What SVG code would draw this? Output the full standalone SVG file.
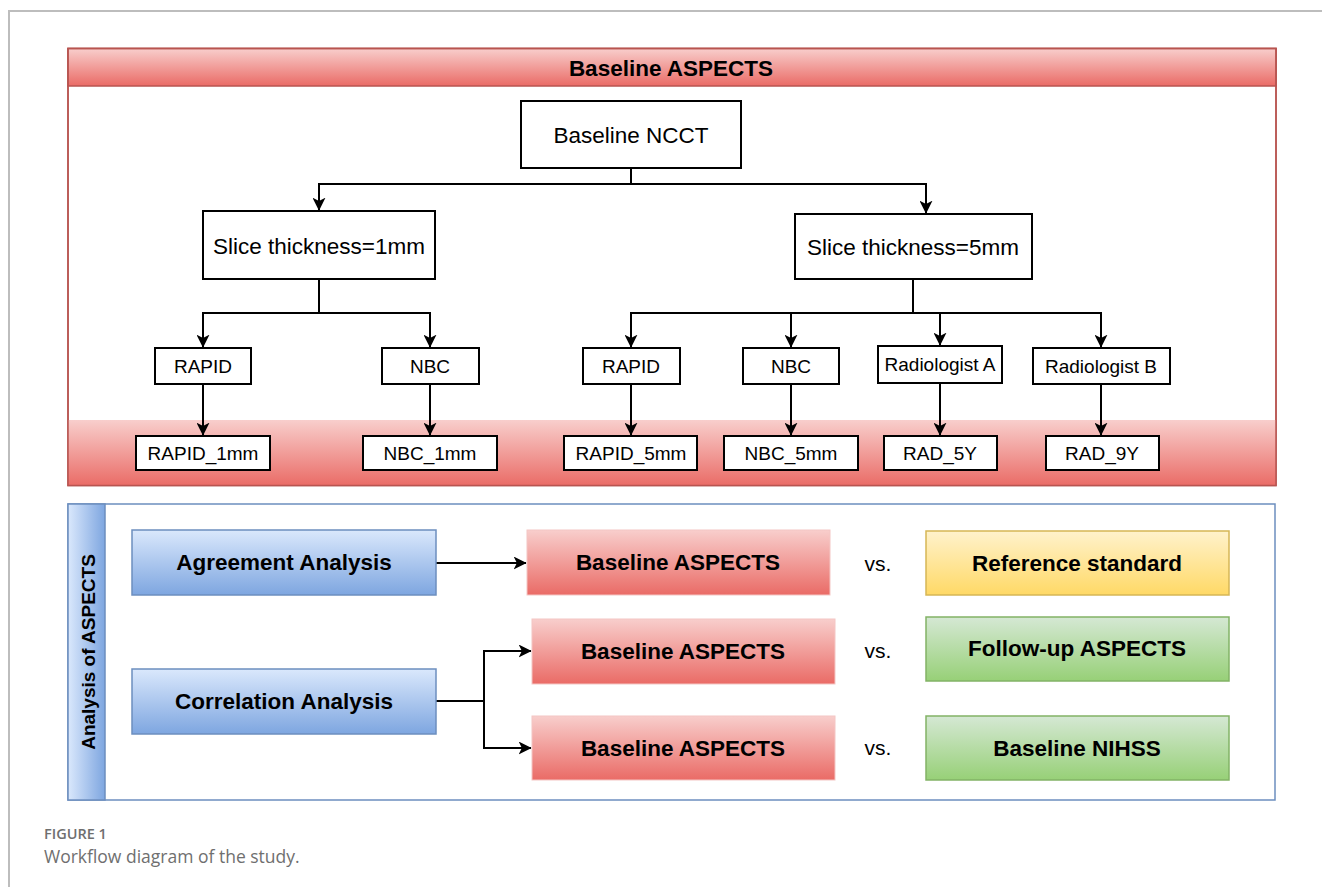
<svg xmlns="http://www.w3.org/2000/svg" width="1322" height="887" viewBox="0 0 1322 887">
<defs>
<linearGradient id="gRed" x1="0" y1="0" x2="0" y2="1"><stop offset="0" stop-color="#f8cecc"/><stop offset="1" stop-color="#ea6b66"/></linearGradient>
<linearGradient id="gBlue" x1="0" y1="0" x2="0" y2="1"><stop offset="0" stop-color="#dae8fc"/><stop offset="1" stop-color="#7ea6e0"/></linearGradient>
<linearGradient id="gBlueH" x1="0" y1="0" x2="1" y2="0"><stop offset="0" stop-color="#dae8fc"/><stop offset="1" stop-color="#7ea6e0"/></linearGradient>
<linearGradient id="gYel" x1="0" y1="0" x2="0" y2="1"><stop offset="0" stop-color="#fff2cc"/><stop offset="1" stop-color="#ffd966"/></linearGradient>
<linearGradient id="gGrn" x1="0" y1="0" x2="0" y2="1"><stop offset="0" stop-color="#d5e8d4"/><stop offset="1" stop-color="#97d077"/></linearGradient>
<marker id="arr" viewBox="0 0 10 10" refX="9.5" refY="5" markerWidth="13" markerHeight="13" markerUnits="userSpaceOnUse" orient="auto">
<path d="M0,0 L10,5 L0,10 L2.5,5 Z" fill="#000"/>
</marker>
</defs>
<style>
.box{fill:#fff;stroke:#000;stroke-width:2}
.t{font-family:"Liberation Sans",Arial,sans-serif;fill:#000;text-anchor:middle;dominant-baseline:central}
.big{font-size:22.5px}
.sm{font-size:19px}
.b{font-weight:bold;font-size:22.5px}
.ln{fill:none;stroke:#000;stroke-width:2}
.red{fill:url(#gRed);stroke:#f4c6c4;stroke-width:1}
.blue{fill:url(#gBlue);stroke:#6c8ebf;stroke-width:1.5}
.cap{font-family:"Open Sans","Noto Sans",sans-serif;fill:#6f6f6f}
</style>
<rect width="1322" height="887" fill="#fff"/>
<path d="M9,887 V11 H1322" fill="none" stroke="#bdbdbd" stroke-width="2"/>

<g id="baseline-aspects-container">
<rect x="68" y="48.5" width="1208" height="437" fill="#fff" stroke="#b85450" stroke-width="1.5"/>
<rect x="68" y="420" width="1208" height="66" fill="url(#gRed)" stroke="none"/>
<rect x="68" y="48.5" width="1208" height="37.5" fill="url(#gRed)" stroke="#b85450" stroke-width="1.5"/>
<rect x="68" y="48.5" width="1208" height="437" fill="none" stroke="#b85450" stroke-width="1.5"/>
<text class="t b" x="671" y="68">Baseline ASPECTS</text>
</g>

<g id="analysis-container">
<rect x="68" y="504" width="1207" height="296" fill="#fff" stroke="#6c8ebf" stroke-width="1.5"/>
<rect x="68" y="504" width="37" height="296" fill="url(#gBlueH)" stroke="#6c8ebf" stroke-width="1.5"/>
<text class="t" x="88" y="652" transform="rotate(-90 88 652)" style="font-weight:bold;font-size:19px">Analysis of ASPECTS</text>
</g>

<g id="connectors">
<path class="ln" d="M631,168 V184 H319 V210" marker-end="url(#arr)"/>
<path class="ln" d="M631,184 H926 V213" marker-end="url(#arr)"/>
<path class="ln" d="M319,279 V313 H203 V347" marker-end="url(#arr)"/>
<path class="ln" d="M319,313 H430 V347" marker-end="url(#arr)"/>
<path class="ln" d="M913,279 V313 H631 V347" marker-end="url(#arr)"/>
<path class="ln" d="M791,313 V347" marker-end="url(#arr)"/>
<path class="ln" d="M913,313 H1101 V347" marker-end="url(#arr)"/>
<path class="ln" d="M940,313 V345" marker-end="url(#arr)"/>
<path class="ln" d="M203,384 V435" marker-end="url(#arr)"/>
<path class="ln" d="M430,384 V435" marker-end="url(#arr)"/>
<path class="ln" d="M631,384 V435" marker-end="url(#arr)"/>
<path class="ln" d="M791,384 V435" marker-end="url(#arr)"/>
<path class="ln" d="M940,383 V435" marker-end="url(#arr)"/>
<path class="ln" d="M1101,384 V435" marker-end="url(#arr)"/>
<path class="ln" d="M436,563 H526" marker-end="url(#arr)" stroke-width="1.5"/>
<path class="ln" d="M436,701 H484 V651 H531" marker-end="url(#arr)" stroke-width="1.5"/>
<path class="ln" d="M484,701 V748 H531" marker-end="url(#arr)" stroke-width="1.5"/>
</g>

<g id="baseline-ncct"><rect class="box" x="521" y="101" width="220" height="67"/><text class="t big" x="631" y="135">Baseline NCCT</text></g>
<g id="slice-1mm"><rect class="box" x="203" y="211" width="232" height="68"/><text class="t big" x="319" y="246">Slice thickness=1mm</text></g>
<g id="slice-5mm"><rect class="box" x="795" y="214" width="237" height="65"/><text class="t big" x="913" y="247">Slice thickness=5mm</text></g>

<g id="rapid-1"><rect class="box" x="155" y="348" width="96" height="36"/><text class="t sm" x="203" y="366">RAPID</text></g>
<g id="nbc-1"><rect class="box" x="382" y="348" width="97" height="36"/><text class="t sm" x="430" y="366">NBC</text></g>
<g id="rapid-5"><rect class="box" x="583" y="348" width="97" height="36"/><text class="t sm" x="631" y="366">RAPID</text></g>
<g id="nbc-5"><rect class="box" x="743" y="348" width="96" height="36"/><text class="t sm" x="791" y="366">NBC</text></g>
<g id="radiologist-a"><rect class="box" x="878" y="346" width="124" height="37"/><text class="t sm" x="940" y="364">Radiologist A</text></g>
<g id="radiologist-b"><rect class="box" x="1033" y="348" width="137" height="36"/><text class="t sm" x="1101" y="366">Radiologist B</text></g>

<g id="rapid-1mm"><rect class="box" x="136" y="436" width="134" height="34"/><text class="t sm" x="203" y="453">RAPID_1mm</text></g>
<g id="nbc-1mm"><rect class="box" x="363" y="436" width="134" height="34"/><text class="t sm" x="430" y="453">NBC_1mm</text></g>
<g id="rapid-5mm"><rect class="box" x="564" y="436" width="133" height="34"/><text class="t sm" x="631" y="453">RAPID_5mm</text></g>
<g id="nbc-5mm"><rect class="box" x="724" y="436" width="134" height="34"/><text class="t sm" x="791" y="453">NBC_5mm</text></g>
<g id="rad-5y"><rect class="box" x="884" y="436" width="113" height="34"/><text class="t sm" x="940" y="453">RAD_5Y</text></g>
<g id="rad-9y"><rect class="box" x="1046" y="436" width="113" height="34"/><text class="t sm" x="1102" y="453">RAD_9Y</text></g>

<g id="agreement-analysis"><rect class="blue" x="132" y="530" width="304" height="65"/><text class="t b" x="284" y="562">Agreement Analysis</text></g>
<g id="correlation-analysis"><rect class="blue" x="132" y="669" width="304" height="65"/><text class="t b" x="284" y="701">Correlation Analysis</text></g>

<g id="baseline-aspects-1"><rect class="red" x="527" y="530" width="303" height="65"/><text class="t b" x="678" y="562">Baseline ASPECTS</text></g>
<g id="baseline-aspects-2"><rect class="red" x="532" y="619" width="303" height="65"/><text class="t b" x="683" y="651">Baseline ASPECTS</text></g>
<g id="baseline-aspects-3"><rect class="red" x="532" y="716" width="303" height="64"/><text class="t b" x="683" y="748">Baseline ASPECTS</text></g>

<g id="vs-labels">
<text class="t" x="878" y="563" style="font-size:21px">vs.</text>
<text class="t" x="878" y="650" style="font-size:21px">vs.</text>
<text class="t" x="878" y="747" style="font-size:21px">vs.</text>
</g>

<g id="reference-standard"><rect x="926" y="531" width="303" height="64" fill="url(#gYel)" stroke="#d6b656" stroke-width="1.5"/><text class="t b" x="1077" y="563">Reference standard</text></g>
<g id="follow-up-aspects"><rect x="926" y="617" width="303" height="64" fill="url(#gGrn)" stroke="#82b366" stroke-width="1.5"/><text class="t b" x="1077" y="648">Follow-up ASPECTS</text></g>
<g id="baseline-nihss"><rect x="926" y="716" width="303" height="64" fill="url(#gGrn)" stroke="#82b366" stroke-width="1.5"/><text class="t b" x="1077" y="748">Baseline NIHSS</text></g>

<g id="caption">
<text class="cap" x="44" y="839" style="font-size:14.5px;font-weight:600">FIGURE 1</text>
<text class="cap" x="44" y="863" style="font-size:17.5px">Workflow diagram of the study.</text>
</g>
</svg>
